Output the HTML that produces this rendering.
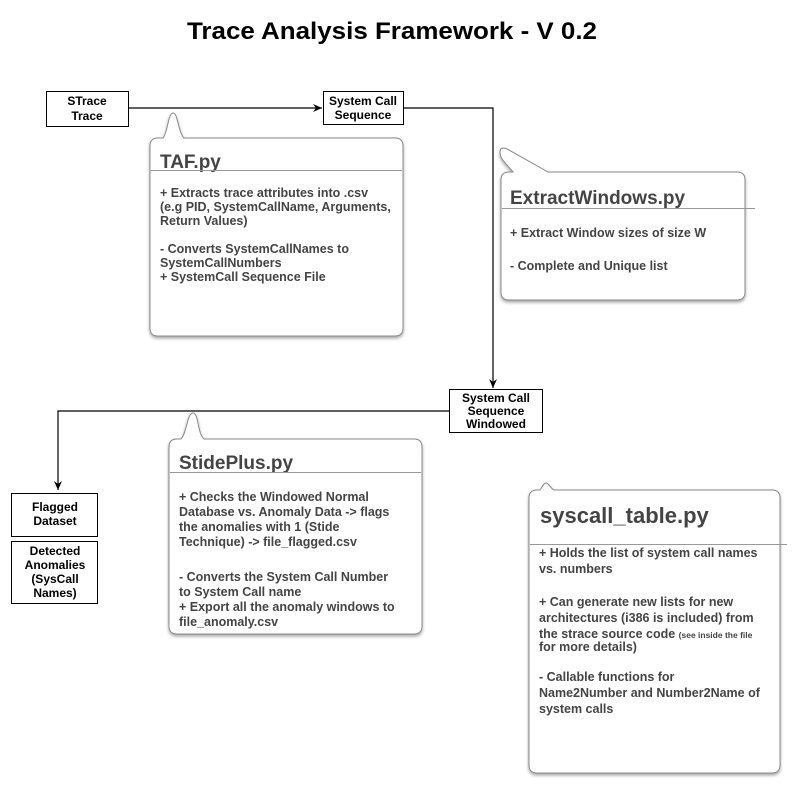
<!DOCTYPE html>
<html><head><meta charset="utf-8"><style>
html,body{margin:0;padding:0;background:#fff;}
svg{display:block;font-family:"Liberation Sans",Arial,sans-serif;}
.b{font-weight:bold;fill:#000;font-size:12px;}
.t{font-weight:bold;fill:#444;font-size:12.5px;}
.h{fill:#444;font-weight:bold;}
.bub{fill:#fff;stroke:#888;stroke-width:1;}
</style></head><body>
<svg width="801" height="791" viewBox="0 0 801 791" xmlns="http://www.w3.org/2000/svg">
<defs>
<filter id="sh" x="-10%" y="-10%" width="130%" height="130%"><feDropShadow dx="0" dy="2" stdDeviation="1.5" flood-color="#000" flood-opacity="0.35"/></filter>
<marker id="ar" markerWidth="10" markerHeight="8" refX="9" refY="4" orient="auto" markerUnits="userSpaceOnUse"><path d="M0,0 L9,4 L0,8 L3,4 z" fill="#000"/></marker>
</defs>
<rect width="801" height="791" fill="#fff"/>
<text x="392" y="39" text-anchor="middle" font-size="24" font-weight="bold" textLength="410" lengthAdjust="spacingAndGlyphs">Trace Analysis Framework - V 0.2</text>

<line x1="128" y1="108" x2="322" y2="108" stroke="#000" stroke-width="1.2" marker-end="url(#ar)"/>
<polyline points="403,108 493,108 493,388" fill="none" stroke="#000" stroke-width="1.2" marker-end="url(#ar)"/>
<polyline points="449,411 58,411 58,490" fill="none" stroke="#000" stroke-width="1.2" marker-end="url(#ar)"/>

<rect x="46.5" y="91.5" width="82" height="35" fill="#fff" stroke="#000"/>
<text class="b" x="87" y="105" text-anchor="middle">STrace</text>
<text class="b" x="87" y="120" text-anchor="middle">Trace</text>
<rect x="323.5" y="91.5" width="80" height="33" fill="#fff" stroke="#000"/>
<text class="b" x="363" y="105" text-anchor="middle">System Call</text>
<text class="b" x="363" y="119" text-anchor="middle">Sequence</text>
<rect x="449.5" y="389.5" width="93" height="43" fill="#fff" stroke="#000"/>
<text class="b" x="496" y="402" text-anchor="middle">System Call</text>
<text class="b" x="496" y="415" text-anchor="middle">Sequence</text>
<text class="b" x="496" y="428" text-anchor="middle">Windowed</text>
<rect x="11.5" y="493.5" width="86" height="43" fill="#fff" stroke="#000"/>
<text class="b" x="55" y="511" text-anchor="middle">Flagged</text>
<text class="b" x="55" y="525" text-anchor="middle">Dataset</text>
<rect x="11.5" y="541.5" width="86" height="62" fill="#fff" stroke="#000"/>
<text class="b" x="55" y="555" text-anchor="middle">Detected</text>
<text class="b" x="55" y="569" text-anchor="middle">Anomalies</text>
<text class="b" x="55" y="583" text-anchor="middle">(SysCall</text>
<text class="b" x="55" y="597" text-anchor="middle">Names)</text>

<path class="bub" filter="url(#sh)" d="M158,138 L163,138 C168,132 168,113 173,113 C178,113 178,132 184,138 L395,138 Q403,138 403,146 L403,328 Q403,336 395,336 L158,336 Q150,336 150,328 L150,146 Q150,138 158,138 Z"/>
<text class="h" x="160" y="168" font-size="19">TAF.py</text>
<line x1="151" y1="170.5" x2="402" y2="170.5" stroke="#999"/>
<text class="t" x="160" y="197">+ Extracts trace attributes into .csv</text>
<text class="t" x="160" y="211">(e.g PID, SystemCallName, Arguments,</text>
<text class="t" x="160" y="225">Return Values)</text>
<text class="t" x="160" y="253">- Converts SystemCallNames to</text>
<text class="t" x="160" y="267">SystemCallNumbers</text>
<text class="t" x="160" y="281">+ SystemCall Sequence File</text>

<path class="bub" filter="url(#sh)" d="M509,172 L513,172 C508,165 500,160 500,152 C500,148 503,147 507,149 L548,172 L737,172 Q745,172 745,180 L745,292 Q745,300 737,300 L509,300 Q501,300 501,292 L501,180 Q501,172 509,172 Z"/>
<text class="h" x="510" y="204" font-size="19">ExtractWindows.py</text>
<line x1="502" y1="208.5" x2="755" y2="208.5" stroke="#999"/>
<text class="t" x="510" y="237">+ Extract Window sizes of size W</text>
<text class="t" x="510" y="270">- Complete and Unique list</text>

<path class="bub" filter="url(#sh)" d="M177,439 L181,439 C187,433 187,413 193,413 C199,413 197,433 204,439 L414,439 Q422,439 422,447 L422,626 Q422,634 414,634 L177,634 Q169,634 169,626 L169,447 Q169,439 177,439 Z"/>
<text class="h" x="179" y="469" font-size="19">StidePlus.py</text>
<line x1="170" y1="472.5" x2="421" y2="472.5" stroke="#999"/>
<text class="t" x="179" y="501">+ Checks the Windowed Normal</text>
<text class="t" x="179" y="516">Database vs. Anomaly Data -&gt; flags</text>
<text class="t" x="179" y="531">the anomalies with 1 (Stide</text>
<text class="t" x="179" y="546">Technique) -&gt; file_flagged.csv</text>
<text class="t" x="179" y="581">- Converts the System Call Number</text>
<text class="t" x="179" y="596">to System Call name</text>
<text class="t" x="179" y="611">+ Export all the anomaly windows to</text>
<text class="t" x="179" y="626">file_anomaly.csv</text>

<path class="bub" filter="url(#sh)" d="M537,490 L540,490 C542,488 543,483 546,483 C549,483 550,488 554,490 L772,490 Q780,490 780,498 L780,765 Q780,773 772,773 L537,773 Q529,773 529,765 L529,498 Q529,490 537,490 Z"/>
<text class="h" x="540" y="523" font-size="22">syscall_table.py</text>
<line x1="530" y1="544.5" x2="787" y2="544.5" stroke="#999"/>
<text class="t" x="539" y="557">+ Holds the list of system call names</text>
<text class="t" x="539" y="573">vs. numbers</text>
<text class="t" x="539" y="606">+ Can generate new lists for new</text>
<text class="t" x="539" y="622">architectures (i386 is included) from</text>
<text class="t" x="539" y="638">the strace source code <tspan font-size="8.5">(see inside the file</tspan></text>
<text class="t" x="539" y="651" font-size="8.5">for more details)</text>
<text class="t" x="539" y="681">- Callable functions for</text>
<text class="t" x="539" y="697">Name2Number and Number2Name of</text>
<text class="t" x="539" y="713">system calls</text>
</svg>
</body></html>
